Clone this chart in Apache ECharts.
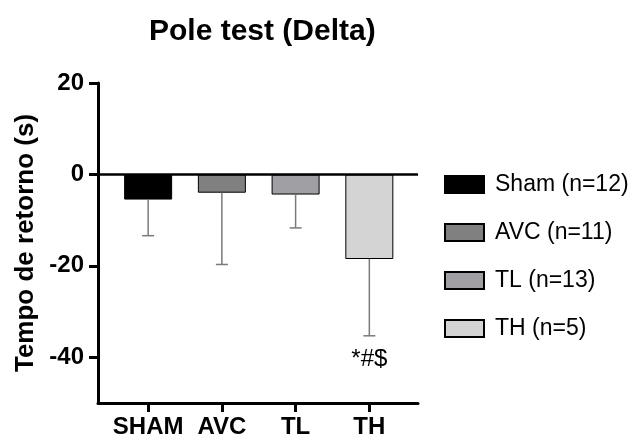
<!DOCTYPE html>
<html>
<head>
<meta charset="utf-8">
<script src="https://cdn.jsdelivr.net/npm/echarts@6/dist/echarts.min.js"></script>
<style>html,body{margin:0;padding:0;background:#fff;}#c{width:635px;height:443px;}</style>
</head>
<body>
<div id="c"></div>
<script>
var categories = ['SHAM', 'AVC', 'TL', 'TH'];
var legendNames = ['Sham (n=12)', 'AVC (n=11)', 'TL (n=13)', 'TH (n=5)'];
var means = [-5.5, -4.0, -4.4, -18.5];
var errLow = [-13.4, -19.7, -11.7, -35.3];
var annotations = ['', '', '', '*#$'];
var barColors = ['#000000', '#808080', '#a0a0a4', '#d4d4d4'];
var yTicks = [-40, -20, 0, 20];
var FONT = 'Liberation Sans, Arial, sans-serif';

var chart = echarts.init(document.getElementById('c'));

var series = categories.map(function (c, i) {
  var s = {
    type: 'bar',
    name: legendNames[i],
    stack: 'all',
    barWidth: 48,
    data: [[i, means[i]]],
    itemStyle: { color: barColors[i], borderColor: '#000', borderWidth: 1 },
    silent: true
  };
  if (i === 0) {
    s.markLine = {
      silent: true,
      symbol: 'none',
      label: { show: false },
      lineStyle: { color: '#000', width: 2.5, type: 'solid' },
      data: [{ yAxis: 0 }],
      z: 10
    };
  }
  return s;
});

series.push({
  type: 'custom',
  name: 'err',
  silent: true,
  z: 5,
  data: categories.map(function (c, i) { return [i, means[i], errLow[i]]; }),
  renderItem: function (params, api) {
    var i = api.value(0);
    var top = api.coord([i, api.value(1)]);
    var bot = api.coord([i, api.value(2)]);
    var style = { stroke: '#7a7a7a', lineWidth: 1.5 };
    var children = [
      { type: 'line', shape: { x1: top[0], y1: top[1], x2: bot[0], y2: bot[1] }, style: style },
      { type: 'line', shape: { x1: bot[0] - 6, y1: bot[1], x2: bot[0] + 6, y2: bot[1] }, style: style }
    ];
    var ann = annotations[params.dataIndex];
    if (ann) {
      children.push({
        type: 'text',
        style: { text: ann, x: bot[0], y: bot[1] + 12, align: 'center', verticalAlign: 'top',
                 fontSize: 24, fontFamily: FONT, fill: '#000' }
      });
    }
    return { type: 'group', children: children };
  }
});

chart.setOption({
  animation: false,
  backgroundColor: '#fff',
  title: {
    text: 'Pole test (Delta)',
    left: 144, top: 12,
    textStyle: { fontSize: 30, fontWeight: 'bold', fontFamily: FONT, color: '#000' }
  },
  legend: {
    data: legendNames,
    orient: 'vertical',
    left: 444, top: 173,
    itemWidth: 39, itemHeight: 17, itemGap: 25,
    padding: 0,
    icon: 'rect',
    selectedMode: false,
    textStyle: { fontSize: 23, fontFamily: FONT, color: '#000', padding: [0, 0, 0, 6] }
  },
  grid: { left: 98, right: 217, top: 83, bottom: 40, containLabel: false },
  xAxis: {
    type: 'value',
    min: -0.68, max: 3.66,
    axisLine: { show: true, onZero: false, lineStyle: { color: '#000', width: 3 } },
    axisTick: { show: true, length: 9, lineStyle: { color: '#000', width: 3 }, customValues: [0, 1, 2, 3] },
    axisLabel: {
      customValues: [0, 1, 2, 3],
      formatter: function (v) { return categories[Math.round(v)]; },
      fontSize: 24, fontWeight: 'bold', fontFamily: FONT, color: '#000', margin: 12
    },
    splitLine: { show: false }
  },
  yAxis: {
    type: 'value',
    min: -50, max: 20,
    name: 'Tempo de retorno (s)',
    nameLocation: 'middle',
    nameGap: 57,
    nameTextStyle: { fontSize: 26, fontWeight: 'bold', fontFamily: FONT, color: '#000' },
    axisLine: { show: true, onZero: false, lineStyle: { color: '#000', width: 3 } },
    axisTick: { show: true, length: 9, lineStyle: { color: '#000', width: 3 }, customValues: yTicks },
    axisLabel: {
      customValues: yTicks,
      fontSize: 24, fontWeight: 'bold', fontFamily: FONT, color: '#000', margin: 14
    },
    splitLine: { show: false }
  },
  series: series
});
</script>
</body>
</html>
